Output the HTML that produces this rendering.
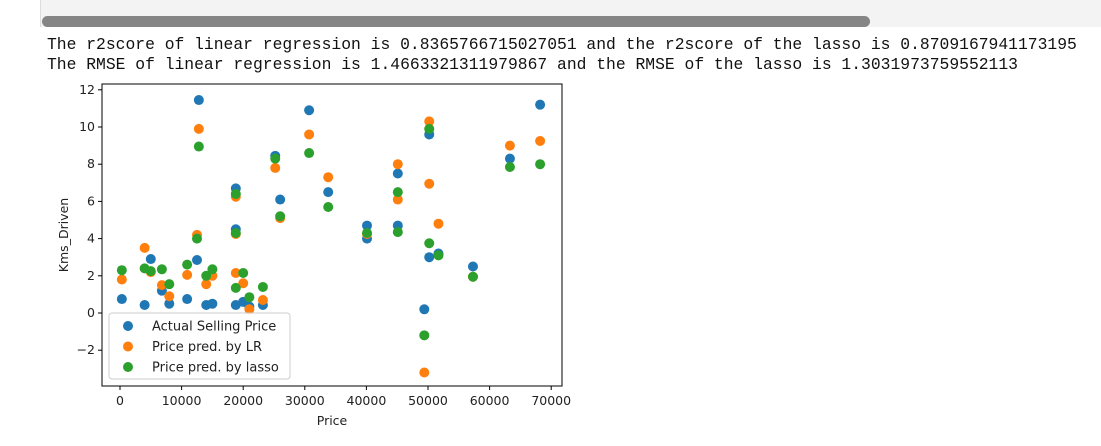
<!DOCTYPE html>
<html><head><meta charset="utf-8"><style>
body{margin:0;background:#fff;width:1101px;height:446px;overflow:hidden;position:relative;font-family:"DejaVu Sans",sans-serif}
.top{position:absolute;left:40px;top:0;width:1061px;height:27px;background:#f3f3f3;border-left:1px solid #ddd}
.sb{position:absolute;left:42px;top:16px;width:828px;height:11px;background:#858585;border-radius:6px}
.out{position:absolute;left:47px;font-family:"Liberation Mono",monospace;font-size:16.35px;color:#111;white-space:pre}
</style></head><body>
<div class="top"></div>
<div class="sb"></div>
<div class="out" style="top:35px">The r2score of linear regression is 0.8365766715027051 and the r2score of the lasso is 0.8709167941173195</div>
<div class="out" style="top:55px">The RMSE of linear regression is 1.4663321311979867 and the RMSE of the lasso is 1.3031973759552113</div>
<svg id="chart" width="1101" height="446" style="position:absolute;left:0;top:0"></svg>
<script>
const xs=[300,4000,5000,6800,8000,10900,12500,12800,14000,15000,18800,18800,18800,20000,21000,23200,25200,26000,30700,33800,40100,45100,45100,50200,50200,49400,51700,57300,63300,68200];
const actual=[0.75,0.43,2.9,1.2,0.5,0.75,2.85,11.45,0.43,0.5,6.7,4.5,0.43,0.6,0.35,0.43,8.45,6.1,10.9,6.5,4.0,7.5,4.7,9.6,3.0,0.2,3.2,2.5,8.3,11.2];
const lr=[1.8,3.5,2.2,1.5,0.9,2.05,4.2,9.9,1.55,2.0,6.25,4.25,2.15,1.6,0.2,0.7,7.8,5.1,9.6,7.3,4.25,8.0,6.1,10.3,6.95,-3.2,4.8,1.95,9.0,9.25];
const lasso=[2.3,2.4,2.25,2.35,1.55,2.6,4.0,8.95,2.0,2.35,6.4,4.3,1.35,2.15,0.85,1.4,8.3,5.2,8.6,5.7,4.3,6.5,4.35,9.9,3.75,-1.2,3.1,1.95,7.85,8.0];
const blueExtra=[[40100,4.7]];
const xTicks=[0,10000,20000,30000,40000,50000,60000,70000];
const yTicks=[-2,0,2,4,6,8,10,12];
const legendLabels=["Actual Selling Price","Price pred. by LR","Price pred. by lasso"];
const colors=["#1f77b4","#ff7f0e","#2ca02c"];
const X=v=>120+v*0.00616, Y=v=>313-v*18.6;
const svg=document.getElementById('chart'),NS="http://www.w3.org/2000/svg";
function mk(t,a){const e=document.createElementNS(NS,t);for(const k in a)e.setAttribute(k,a[k]);svg.appendChild(e);return e;}
const fr=mk('rect',{x:102,y:84,width:460,height:302,fill:'none',stroke:'#000','stroke-width':1});


xTicks.forEach(t=>{const l=mk('line',{x1:X(t),x2:X(t),y1:386,y2:390,stroke:'#000'});


const tx=mk('text',{x:X(t),y:405,'text-anchor':'middle','font-size':12.5,fill:'#222'});tx.textContent=t;

});
yTicks.forEach(t=>{const l=mk('line',{x1:98,x2:102,y1:Y(t),y2:Y(t),stroke:'#000'});


const tx=mk('text',{x:95,y:Y(t)+4,'text-anchor':'end','font-size':12.5,fill:'#222'});tx.textContent=t<0?'\u2212'+(-t):t;

});
const xt=mk('text',{x:332,y:425,'text-anchor':'middle','font-size':12.5,fill:'#222'});xt.textContent='Price';


const yt=mk('text',{x:0,y:0,'text-anchor':'middle','font-size':12.5,fill:'#222',transform:'translate(68,235) rotate(-90)'});yt.textContent='Kms_Driven';


[actual,lr,lasso].forEach((s,i)=>{s.forEach((v,j)=>{const c=mk('circle',{cx:X(xs[j]),cy:Y(v),r:5,fill:colors[i]});

});
if(i===0)blueExtra.forEach(p=>{const c=mk('circle',{cx:X(p[0]),cy:Y(p[1]),r:5,fill:colors[0]});

});});
const lg=mk('rect',{x:109,y:313,width:181,height:66,rx:3,fill:'#fff','fill-opacity':0.8,stroke:'#ccc'});


legendLabels.forEach((t,i)=>{const c=mk('circle',{cx:128,cy:326+i*20.5,r:5,fill:colors[i]});


const tx=mk('text',{x:152,y:330.5+i*20.5,'font-size':13,fill:'#222'});tx.textContent=t;

});
</script>
</body></html>
